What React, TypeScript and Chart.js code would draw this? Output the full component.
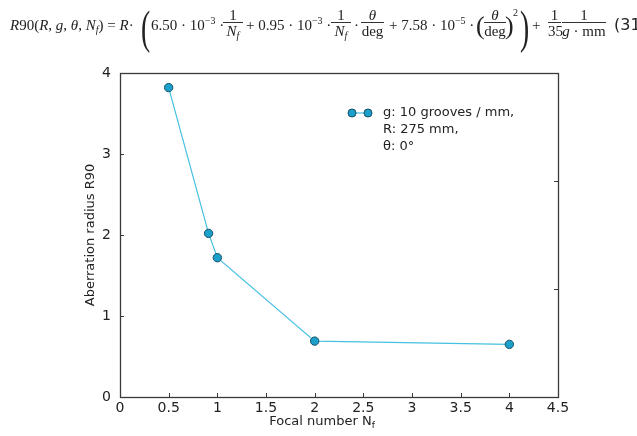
import React, { useEffect, useRef } from "react";
import { Chart, registerables } from "chart.js";

Chart.register(...registerables);

// ---- data ----
const focalNumbers = [0.5, 0.91, 1.0, 2.0, 4.0];
const r90Values = [3.82, 2.02, 1.72, 0.69, 0.65];
const xRange = [0, 4.5];
const xStep = 0.5;
const yRange = [0, 4];
const yStep = 1;
const rightTickRange = [0, 3];
const legendLines = ["g: 10 grooves / mm,", "R: 275 mm,", "θ: 0°"];
const xTitle = "Focal number N";
const xTitleSub = "f";
const yTitle = "Aberration radius R90";

const LINE = "#45c0e0";
const FILL = "#1b9fcb";
const EDGE = "#174f66";
const TEXT = "#222";
const FRAME = "#3a3a3a";
const SANS = "'DejaVu Sans', sans-serif";

const framePlugin = {
  id: "frame",
  afterDraw(chart: any) {
    const { ctx, chartArea } = chart;
    const { left, right, top, bottom } = chartArea;
    const xs = chart.scales.x;
    const ys = chart.scales.y;
    const y2 = chart.scales.y2;
    ctx.save();
    ctx.strokeStyle = FRAME;
    ctx.lineWidth = 1;
    const tl = 4;
    xs.ticks.forEach((t: any) => {
      const px = Math.round(xs.getPixelForValue(t.value)) + 0.5;
      ctx.beginPath();
      ctx.moveTo(px, bottom);
      ctx.lineTo(px, bottom - tl);
      ctx.stroke();
    });
    ys.ticks.forEach((t: any) => {
      const py = Math.round(ys.getPixelForValue(t.value)) + 0.5;
      ctx.beginPath();
      ctx.moveTo(left, py);
      ctx.lineTo(left + tl, py);
      ctx.stroke();
    });
    y2.ticks.forEach((t: any) => {
      const py = Math.round(y2.getPixelForValue(t.value)) + 0.5;
      ctx.beginPath();
      ctx.moveTo(right, py);
      ctx.lineTo(right - tl, py);
      ctx.stroke();
    });
    ctx.lineWidth = 1.3;
    ctx.strokeRect(Math.round(left) + 0.5, Math.round(top) + 0.5, Math.round(right - left), Math.round(bottom - top));

    // axis titles
    ctx.fillStyle = TEXT;
    ctx.font = `13px ${SANS}`;
    ctx.textBaseline = "middle";
    ctx.textAlign = "left";
    const w1 = ctx.measureText(xTitle).width;
    ctx.font = `9px ${SANS}`;
    const w2 = ctx.measureText(xTitleSub).width;
    const cx = (left + right) / 2 - 17;
    const sx = cx - (w1 + w2) / 2;
    ctx.font = `13px ${SANS}`;
    ctx.fillText(xTitle, sx, 422);
    ctx.font = `9px ${SANS}`;
    ctx.fillText(xTitleSub, sx + w1, 426);

    ctx.save();
    ctx.translate(91, (top + bottom) / 2);
    ctx.rotate(-Math.PI / 2);
    ctx.font = `13px ${SANS}`;
    ctx.textAlign = "center";
    ctx.fillText(yTitle, 0, 0);
    ctx.restore();

    // legend
    const lx = left + 232;
    const ly = top + 40;
    ctx.strokeStyle = LINE;
    ctx.lineWidth = 1.2;
    ctx.beginPath();
    ctx.moveTo(lx, ly);
    ctx.lineTo(lx + 16, ly);
    ctx.stroke();
    ctx.lineWidth = 1;
    [lx, lx + 16].forEach((px) => {
      ctx.beginPath();
      ctx.arc(px, ly, 4, 0, Math.PI * 2);
      ctx.fillStyle = FILL;
      ctx.fill();
      ctx.strokeStyle = EDGE;
      ctx.stroke();
    });
    ctx.fillStyle = TEXT;
    ctx.font = `13px ${SANS}`;
    ctx.textAlign = "left";
    legendLines.forEach((s, i) => {
      ctx.fillText(s, lx + 31, ly + i * 17);
    });
    ctx.restore();
  },
};

const T = ({ x, y = 25, children, style }: any) => (
  <span
    style={{
      position: "absolute",
      left: x,
      top: y,
      transform: "translateY(-50%)",
      whiteSpace: "nowrap",
      lineHeight: 1,
      ...style,
    }}
  >
    {children}
  </span>
);

const Frac = ({ x, w, num, den }: any) => (
  <span style={{ position: "absolute", left: x, top: 0, width: w, height: 50 }}>
    <span style={{ position: "absolute", left: 0, width: w, top: 15, transform: "translateY(-50%)", textAlign: "center", lineHeight: 1, whiteSpace: "nowrap" }}>{num}</span>
    <span style={{ position: "absolute", left: 0, width: w, top: 22, height: 1, background: "#333" }} />
    <span style={{ position: "absolute", left: 0, width: w, top: 31, transform: "translateY(-50%)", textAlign: "center", lineHeight: 1, whiteSpace: "nowrap" }}>{den}</span>
  </span>
);

const sup = (s: string) => <sup style={{ fontSize: 10, verticalAlign: 6, lineHeight: 0 }}>{s}</sup>;
const Nf = (
  <i>
    N<sub style={{ fontSize: 10, verticalAlign: -3, lineHeight: 0 }}>f</sub>
  </i>
);

const Formula = () => (
  <div
    style={{
      position: "absolute",
      left: 0,
      top: 0,
      width: 637,
      height: 56,
      fontFamily: "'Liberation Serif', serif",
      fontSize: 15,
      color: "#222",
      overflow: "hidden",
    }}
  >
    <T x={10}>
      <i>R</i>90(<i>R</i>, <i>g</i>, <i>θ</i>, {Nf}) = <i>R</i>·
    </T>
    <T x={141} y={28} style={{ fontSize: 46, transform: "translateY(-50%) scaleX(0.6)", transformOrigin: "left center" }}>(</T>
    <T x={151}>6.50 · 10{sup("−3")} ·</T>
    <Frac x={223} w={20} num="1" den={Nf} />
    <T x={246}>+ 0.95 · 10{sup("−3")} ·</T>
    <Frac x={331} w={20} num="1" den={Nf} />
    <T x={354}>·</T>
    <Frac x={361} w={23} num={<i>θ</i>} den="deg" />
    <T x={389}>+ 7.58 · 10{sup("−5")} ·</T>
    <T x={476} y={26} style={{ fontSize: 26 }}>(</T>
    <Frac x={484} w={22} num={<i>θ</i>} den="deg" />
    <T x={505} y={26} style={{ fontSize: 26 }}>)</T>
    <T x={513} y={13} style={{ fontSize: 10 }}>2</T>
    <T x={520} y={28} style={{ fontSize: 46, transform: "translateY(-50%) scaleX(0.6)", transformOrigin: "left center" }}>)</T>
    <T x={532}>+</T>
    <Frac x={548} w={13} num="1" den="35" />
    <Frac x={562} w={44} num="1" den={<span><i>g</i> · mm</span>} />
    <T x={614} y={25} style={{ fontFamily: SANS, fontSize: 16 }}>(31</T>
  </div>
);

export default function App() {
  const ref = useRef<HTMLCanvasElement>(null);
  useEffect(() => {
    const tickFont = { family: SANS, size: 14 };
    const fmt = (v: any) => String(Number(v));
    const chart = new Chart(ref.current as HTMLCanvasElement, {
      type: "line",
      data: {
        datasets: [
          {
            data: focalNumbers.map((x, i) => ({ x, y: r90Values[i] })),
            borderColor: LINE,
            borderWidth: 1.2,
            pointRadius: 4.2,
            pointBackgroundColor: FILL,
            pointBorderColor: EDGE,
            pointBorderWidth: 1,
            tension: 0,
            yAxisID: "y",
          },
        ],
      },
      options: {
        animation: false,
        responsive: false,
        maintainAspectRatio: false,
        layout: { padding: { top: 73, left: 0, right: 0, bottom: 0 } },
        plugins: { legend: { display: false }, tooltip: { enabled: false } },
        scales: {
          x: {
            type: "linear",
            min: xRange[0],
            max: xRange[1],
            ticks: { stepSize: xStep, font: tickFont, color: TEXT, padding: 3, maxRotation: 0, autoSkip: false, callback: fmt },
            grid: { display: false, drawTicks: false },
            border: { display: false },
            afterFit: (s: any) => {
              s.height = 39;
            },
          },
          y: {
            type: "linear",
            position: "left",
            min: yRange[0],
            max: yRange[1],
            ticks: { stepSize: yStep, font: tickFont, color: TEXT, padding: 9, callback: fmt },
            grid: { display: false, drawTicks: false },
            border: { display: false },
            afterFit: (s: any) => {
              s.width = 120;
            },
          },
          y2: {
            type: "linear",
            position: "right",
            min: rightTickRange[0],
            max: rightTickRange[1],
            ticks: { stepSize: 1, display: false },
            grid: { display: false, drawTicks: false },
            border: { display: false },
            afterFit: (s: any) => {
              s.width = 79;
            },
          },
        },
      } as any,
      plugins: [framePlugin],
    });
    return () => chart.destroy();
  }, []);
  return (
    <div style={{ position: "fixed", left: 0, top: 0, width: 637, height: 436, background: "#fff" }}>
      <canvas ref={ref} width={637} height={436} style={{ position: "absolute", left: 0, top: 0, display: "block" }} />
      <Formula />
    </div>
  );
}
